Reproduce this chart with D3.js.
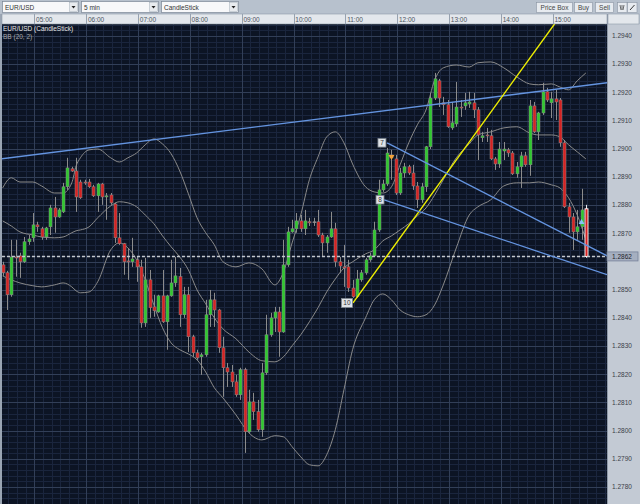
<!DOCTYPE html>
<html><head><meta charset="utf-8">
<script src="https://cdn.jsdelivr.net/npm/d3@7"></script>
<style>
html,body{margin:0;padding:0;background:#b7c1cd;overflow:hidden}
svg{display:block}
text{font-family:"Liberation Sans",Arial,sans-serif}
</style></head><body>
<svg id="c" width="640" height="504"></svg>
<script>
// ---------------- data ----------------
const symbol = "EUR/USD";
const interval = "5 min";
const chartType = "CandleStick";
const legendLines = ["EUR/USD (CandleStick)", "BB (20, 2)"];
const toolButtons = ["Price Box", "Buy", "Sell"];
const startTime = "04:25";
const stepMinutes = 5;
const hourTicks = ["05:00","06:00","07:00","08:00","09:00","10:00","11:00","12:00","13:00","14:00","15:00"];
const priceTicks = [1.2780,1.2790,1.2800,1.2810,1.2820,1.2830,1.2840,1.2850,1.2860,1.2870,1.2880,1.2890,1.2900,1.2910,1.2920,1.2930,1.2940];
const currentPrice = 1.28618;

const open = [
1.28588,1.28560,1.28482,1.28616,1.28620,1.28599,1.28670,1.28684,1.28730,1.28716,
1.28687,1.28723,1.28790,1.28758,1.28776,1.28865,1.28929,1.28921,1.28882,1.28882,
1.28882,1.28865,1.28833,1.28875,1.28829,1.28836,1.28804,1.28684,1.28663,1.28602,
1.28599,1.28606,1.28581,1.28382,1.28535,1.28439,1.28421,1.28478,1.28386,1.28478,
1.28524,1.28546,1.28411,1.28482,1.28333,1.28276,1.28262,1.28269,1.28411,1.28464,
1.28428,1.28294,1.28223,1.28208,1.28173,1.28127,1.28216,1.27996,1.28102,1.28067,
1.28003,1.28205,1.28340,1.28400,1.28421,1.28350,1.28588,1.28705,1.28716,1.28744,
1.28716,1.28741,1.28741,1.28741,1.28694,1.28666,1.28687,1.28716,1.28599,1.28581,
1.28581,1.28506,1.28475,1.28535,1.28560,1.28606,1.28620,1.28712,1.28854,1.28875,
1.28978,1.28964,1.28843,1.28914,1.28936,1.28914,1.28868,1.28819,1.28865,1.29007,
1.29180,1.29241,1.29163,1.29156,1.29074,1.29088,1.29148,1.29152,1.29159,1.29163,
1.29138,1.29039,1.29049,1.29046,1.28964,1.28946,1.28992,1.28996,1.28985,1.28911,
1.28936,1.28975,1.28943,1.29152,1.29060,1.29127,1.29202,1.29163,1.29177,1.29173,
1.29021,1.28794,1.28758,1.28705,1.28723,1.28787];
const high = [
1.28599,1.28567,1.28677,1.28677,1.28631,1.28687,1.28694,1.28772,1.28741,1.28723,
1.28723,1.28801,1.28829,1.28790,1.28879,1.28968,1.28936,1.28968,1.28890,1.28890,
1.28893,1.28872,1.28879,1.28879,1.28843,1.28843,1.28808,1.28772,1.28666,1.28648,
1.28684,1.28616,1.28606,1.28613,1.28570,1.28482,1.28482,1.28570,1.28482,1.28606,
1.28616,1.28577,1.28510,1.28510,1.28340,1.28287,1.28276,1.28464,1.28499,1.28489,
1.28432,1.28333,1.28240,1.28233,1.28198,1.28223,1.28223,1.28145,1.28134,1.28109,
1.28240,1.28411,1.28418,1.28439,1.28439,1.28677,1.28723,1.28748,1.28772,1.28765,
1.28783,1.28755,1.28755,1.28783,1.28702,1.28694,1.28776,1.28737,1.28616,1.28659,
1.28606,1.28535,1.28570,1.28570,1.28613,1.28631,1.28741,1.28890,1.28890,1.29003,
1.28996,1.28978,1.28932,1.28950,1.28943,1.28943,1.28882,1.28879,1.29010,1.29198,
1.29269,1.29248,1.29184,1.29173,1.29166,1.29237,1.29173,1.29198,1.29202,1.29198,
1.29148,1.29060,1.29074,1.29067,1.28971,1.29024,1.29024,1.29003,1.28992,1.28953,
1.28989,1.28989,1.29173,1.29166,1.29131,1.29234,1.29216,1.29202,1.29209,1.29180,
1.29031,1.28808,1.28772,1.28783,1.28858,1.28801];
const low = [
1.28549,1.28428,1.28475,1.28546,1.28542,1.28595,1.28659,1.28670,1.28705,1.28677,
1.28677,1.28694,1.28702,1.28755,1.28772,1.28854,1.28918,1.28776,1.28822,1.28872,
1.28861,1.28829,1.28776,1.28801,1.28748,1.28801,1.28666,1.28659,1.28553,1.28535,
1.28581,1.28528,1.28365,1.28368,1.28400,1.28404,1.28418,1.28382,1.28287,1.28475,
1.28510,1.28368,1.28400,1.28279,1.28262,1.28251,1.28198,1.28262,1.28368,1.28368,
1.28276,1.28120,1.28155,1.28155,1.28120,1.28109,1.27921,1.27992,1.28038,1.27996,
1.27978,1.28198,1.28333,1.28350,1.28262,1.28347,1.28581,1.28702,1.28702,1.28705,
1.28694,1.28726,1.28726,1.28687,1.28616,1.28631,1.28684,1.28581,1.28560,1.28510,
1.28492,1.28471,1.28471,1.28528,1.28553,1.28599,1.28616,1.28705,1.28847,1.28868,
1.28890,1.28836,1.28836,1.28897,1.28907,1.28854,1.28790,1.28808,1.28847,1.28999,
1.29173,1.29148,1.29120,1.29074,1.29067,1.29078,1.29113,1.29138,1.29145,1.29109,
1.28960,1.29024,1.29024,1.28960,1.28925,1.28932,1.28960,1.28971,1.28907,1.28897,
1.28861,1.28936,1.28904,1.29056,1.29031,1.29120,1.29166,1.29109,1.29102,1.29007,
1.28790,1.28702,1.28641,1.28677,1.28677,1.28613];
const close = [
1.28560,1.28482,1.28616,1.28613,1.28599,1.28670,1.28680,1.28730,1.28723,1.28687,
1.28719,1.28790,1.28758,1.28783,1.28865,1.28932,1.28921,1.28829,1.28826,1.28879,
1.28865,1.28833,1.28875,1.28829,1.28833,1.28808,1.28684,1.28663,1.28599,1.28599,
1.28609,1.28581,1.28382,1.28535,1.28436,1.28425,1.28478,1.28386,1.28478,1.28524,
1.28549,1.28411,1.28482,1.28333,1.28276,1.28258,1.28269,1.28411,1.28464,1.28428,
1.28294,1.28223,1.28208,1.28173,1.28127,1.28216,1.27996,1.28102,1.28067,1.28003,
1.28205,1.28340,1.28400,1.28421,1.28350,1.28588,1.28705,1.28716,1.28744,1.28716,
1.28744,1.28737,1.28741,1.28694,1.28666,1.28687,1.28716,1.28599,1.28584,1.28577,
1.28506,1.28475,1.28538,1.28560,1.28606,1.28620,1.28712,1.28854,1.28875,1.28985,
1.28968,1.28843,1.28914,1.28936,1.28914,1.28868,1.28819,1.28865,1.29007,1.29180,
1.29248,1.29180,1.29156,1.29078,1.29092,1.29148,1.29145,1.29163,1.29166,1.29138,
1.29049,1.29046,1.29046,1.28964,1.28946,1.28999,1.28999,1.28985,1.28911,1.28936,
1.28975,1.28943,1.29152,1.29060,1.29127,1.29202,1.29173,1.29177,1.29166,1.29021,
1.28794,1.28758,1.28705,1.28723,1.28783,1.28618];

// Bollinger band (20, 2) values at these candle indices
const bbIndex = [0,2,4,7,9,12,14,16,17,18,20,22,25,27,29,31,33,35,37,39,41,43,45,47,49,51,54,57,60,63,65,67,69,71,73,75,77,79,81,84,86,88,90,92,94,96,98,100,102,105,108,110,113,116,119,122,124,127,129,131,133,135];
const bbUpper = [1.28861,1.28897,1.28882,1.28882,1.28868,1.28843,1.28843,1.28879,1.28939,1.28968,
1.28996,1.28999,1.28968,1.28953,1.28968,1.28985,1.29014,1.29035,1.29017,1.28982,
1.28921,1.28840,1.28755,1.28702,1.28659,1.28599,1.28581,1.28595,1.28574,1.28517,
1.28563,1.28666,1.28765,1.28890,1.28971,1.29042,1.29060,1.29021,1.28946,1.28865,
1.28847,1.28843,1.28865,1.28943,1.29021,1.29085,1.29138,1.29244,1.29287,1.29297,
1.29290,1.29305,1.29308,1.29287,1.29255,1.29230,1.29227,1.29230,1.29219,1.29209,
1.29241,1.29269];
const bbMiddle = [1.28744,1.28726,1.28705,1.28694,1.28687,1.28684,1.28687,1.28702,1.28709,1.28712,
1.28723,1.28755,1.28797,1.28812,1.28808,1.28794,1.28765,1.28734,1.28691,1.28652,
1.28616,1.28570,1.28499,1.28450,1.28400,1.28361,1.28326,1.28279,1.28248,1.28244,
1.28262,1.28301,1.28340,1.28386,1.28436,1.28492,1.28538,1.28577,1.28599,1.28627,
1.28641,1.28673,1.28691,1.28712,1.28734,1.28762,1.28790,1.28836,1.28890,1.28968,
1.29017,1.29049,1.29060,1.29074,1.29078,1.29056,1.29049,1.29049,1.29042,1.29014,
1.28989,1.28964];
const bbLower = [1.28549,1.28535,1.28524,1.28514,1.28510,1.28517,1.28524,1.28510,1.28496,1.28489,
1.28492,1.28528,1.28641,1.28666,1.28648,1.28606,1.28535,1.28446,1.28365,1.28311,
1.28287,1.28272,1.28251,1.28208,1.28152,1.28116,1.28056,1.27992,1.27967,1.27982,
1.27978,1.27943,1.27907,1.27879,1.27875,1.27914,1.28003,1.28145,1.28287,1.28400,
1.28464,1.28485,1.28464,1.28428,1.28411,1.28404,1.28411,1.28446,1.28517,1.28648,
1.28765,1.28794,1.28819,1.28868,1.28879,1.28879,1.28882,1.28872,1.28861,1.28826,
1.28765,1.28677];

// drawn annotations: [candle index, price]
const trendLines = [
  {from:[-1, 1.28963], to:[141, 1.29236], color:"#6494e0", w:1.4},
  {from:[81.1, 1.28453], to:[128.1, 1.29450], color:"#f0f000", w:1.4},
  {from:[89.0, 1.29021], to:[139.9, 1.28620], color:"#6494e0", w:1.3},
  {from:[88.3, 1.28819], to:[139.9, 1.28553], color:"#6494e0", w:1.3}
];
const pointLabels = [
  {text:"7", i:87.8, p:1.29021, w:8, h:8.5},
  {text:"8", i:87.35, p:1.28819, w:8, h:8.5},
  {text:"10", i:79.7, p:1.28453, w:11, h:9}
];
const markers = [
  {i:90, p:1.28978, dir:"down", color:"#f2a23a"},
  {i:134, p:1.28751, dir:"up", color:"#86c4f6"}
];

// ---------------- layout ----------------
const svg = d3.select("#c");
const L = 2, R = 607, T = 24, B = 504;
const parseT = d3.timeParse("%H:%M");
const t0 = parseT(startTime);
const timeOf = i => new Date(+t0 + i * stepMinutes * 60000);
const x = d3.scaleTime()
  .domain([parseT(hourTicks[0]), parseT(hourTicks[hourTicks.length - 1])])
  .range([34.3, 552.7]);
const cx = i => x(timeOf(i)) - 1.4;
const y = d3.scaleLinear()
  .domain([priceTicks[0], priceTicks[priceTicks.length - 1]])
  .range([487, 36]);

svg.append("rect").attr("width", 640).attr("height", 504).attr("fill", "#b7c1cd");
svg.append("defs").append("clipPath").attr("id", "clip")
  .append("rect").attr("x", L).attr("y", T).attr("width", R - L).attr("height", B - T);

// plot background
svg.append("rect").attr("x", L).attr("y", T).attr("width", R - L).attr("height", B - T).attr("fill", "#0c1424");

const g = svg.append("g").attr("clip-path", "url(#clip)");

// minor grid
const minorT = d3.timeMinute.every(10).range(x.invert(L - 10), x.invert(R + 10));
g.append("g").selectAll("line").data(minorT).join("line")
  .attr("x1", d => Math.round(x(d)) + 0.5).attr("x2", d => Math.round(x(d)) + 0.5)
  .attr("y1", T).attr("y2", B).attr("stroke", "#1a253d").attr("stroke-width", 1);
const minorP = d3.range(6385, 6481).map(k => k * 0.0002);
g.append("g").selectAll("line").data(minorP).join("line")
  .attr("x1", L).attr("x2", R)
  .attr("y1", d => Math.round(y(d)) + 0.5).attr("y2", d => Math.round(y(d)) + 0.5)
  .attr("stroke", "#1a253d").attr("stroke-width", 1);
// major grid
g.append("g").selectAll("line").data(hourTicks).join("line")
  .attr("x1", d => Math.round(x(parseT(d))) + 0.5).attr("x2", d => Math.round(x(parseT(d))) + 0.5)
  .attr("y1", T).attr("y2", B).attr("stroke", "#323f58").attr("stroke-width", 1);
g.append("g").selectAll("line").data(priceTicks).join("line")
  .attr("x1", L).attr("x2", R)
  .attr("y1", d => Math.round(y(d)) + 0.5).attr("y2", d => Math.round(y(d)) + 0.5)
  .attr("stroke", "#323f58").attr("stroke-width", 1);

// Bollinger bands
const bandLine = vals => d3.line()
  .x((d, k) => cx(bbIndex[k])).y(d => y(d))
  .curve(d3.curveMonotoneX)(vals);
[bbUpper, bbMiddle, bbLower].forEach(vals => {
  g.append("path").attr("d", bandLine(vals)).attr("fill", "none")
    .attr("stroke", "#8a8a8a").attr("stroke-width", 1);
});

// candles
const candles = open.map((o, i) => ({i, o, h: high[i], l: low[i], c: close[i]}));
const last = candles.length - 1;
const cg = g.append("g");
cg.selectAll("line").data(candles).join("line")
  .attr("x1", d => Math.round(cx(d.i)) + 0.5).attr("x2", d => Math.round(cx(d.i)) + 0.5)
  .attr("y1", d => y(d.h)).attr("y2", d => y(d.l))
  .attr("stroke", d => d.i === last ? "#e8e8e8" : "#8c8c8c").attr("stroke-width", 1);
cg.selectAll("rect").data(candles).join("rect")
  .attr("x", d => Math.round(cx(d.i)) - 1)
  .attr("width", 3)
  .attr("y", d => y(Math.max(d.o, d.c)))
  .attr("height", d => Math.max(1, Math.abs(y(d.o) - y(d.c))))
  .attr("fill", d => d.c > d.o ? "#2ec82e" : (d.c < d.o ? "#d42222" : "#9a9a9a"))
  .attr("stroke", d => d.i === last ? "#ffffff" : "#8a8a8a")
  .attr("stroke-width", d => d.i === last ? 0.9 : 0.5);

// current price dashed line
g.append("line").attr("x1", L).attr("x2", R)
  .attr("y1", y(currentPrice)).attr("y2", y(currentPrice))
  .attr("stroke", "#c4c8cd").attr("stroke-width", 1.4).attr("stroke-dasharray", "3,2");

// trend lines
trendLines.forEach(t => {
  g.append("line")
    .attr("x1", cx(t.from[0])).attr("y1", y(t.from[1]))
    .attr("x2", cx(t.to[0])).attr("y2", y(t.to[1]))
    .attr("stroke", t.color).attr("stroke-width", t.w);
});

// markers
markers.forEach(m => {
  const px = cx(m.i), py = y(m.p);
  const d = m.dir === "down"
    ? `M${px - 3},${py}L${px + 3},${py}L${px},${py + 5}Z`
    : `M${px - 3},${py + 5}L${px + 3},${py + 5}L${px},${py}Z`;
  g.append("path").attr("d", d).attr("fill", m.color);
});

// point labels
pointLabels.forEach(p => {
  const px = cx(p.i), py = y(p.p);
  g.append("rect").attr("x", px - p.w / 2).attr("y", py - p.h / 2)
    .attr("width", p.w).attr("height", p.h)
    .attr("fill", "#dfe3e8").attr("stroke", "#7d858e").attr("stroke-width", 0.8);
  g.append("text").attr("x", px).attr("y", py + 2.3).attr("text-anchor", "middle")
    .attr("font-size", 6.5).attr("fill", "#333").text(p.text);
});

// legend text
g.append("text").attr("x", 3).attr("y", 31).attr("font-size", 6.5).attr("fill", "#e6e6e6").text(legendLines[0]);
g.append("text").attr("x", 3).attr("y", 38.5).attr("font-size", 6.5).attr("fill", "#a8a8a8").text(legendLines[1]);

// left border
svg.append("rect").attr("x", 0).attr("y", 14).attr("width", L).attr("height", B - 14).attr("fill", "#9aa5b3");

// right price axis (tick label under the current-price box is hidden, as in the platform)
svg.append("rect").attr("x", R).attr("y", T).attr("width", 640 - R).attr("height", B - T).attr("fill", "#c3cad4");
svg.append("line").attr("x1", R + 0.5).attr("x2", R + 0.5).attr("y1", 14).attr("y2", B).attr("stroke", "#8e99a8");
const cpY = y(currentPrice);
svg.append("g").selectAll("text").data(priceTicks.filter(p => Math.abs(y(p) - cpY) > 8)).join("text")
  .attr("x", 612).attr("y", d => y(d) + 2.3)
  .attr("font-size", 6.5).attr("fill", "#3a4049").text(d => d.toFixed(4));
svg.append("rect").attr("x", R).attr("y", cpY - 4.5).attr("width", 31).attr("height", 9)
  .attr("fill", "#a5afc0").attr("stroke", "#76829a").attr("stroke-width", 0.8);
svg.append("text").attr("x", 612).attr("y", cpY + 2.3)
  .attr("font-size", 6.5).attr("fill", "#1e232b").text(currentPrice.toFixed(4));

// time axis bar
svg.append("rect").attr("x", L).attr("y", 14).attr("width", R - L).attr("height", 10)
  .attr("fill", "#e3e7ec").attr("stroke", "#8e99a8").attr("stroke-width", 0.6);
svg.append("rect").attr("x", R + 1).attr("y", 14).attr("width", 31).attr("height", 10)
  .attr("fill", "#e3e7ec").attr("stroke", "#8e99a8").attr("stroke-width", 0.6);
const tg = svg.append("g");
tg.selectAll("line").data(hourTicks).join("line")
  .attr("x1", d => Math.round(x(parseT(d))) + 0.5).attr("x2", d => Math.round(x(parseT(d))) + 0.5)
  .attr("y1", 14).attr("y2", 24).attr("stroke", "#97a2b0");
tg.selectAll("text").data(hourTicks).join("text")
  .attr("x", d => x(parseT(d)) + 1.8).attr("y", 21.6)
  .attr("font-size", 6.5).attr("fill", "#4d5560").text(d => d);

// toolbar
const tb = svg.append("g");
const combos = [{t: symbol, x: 2, w: 76}, {t: interval, x: 81, w: 77}, {t: chartType, x: 161, w: 77}];
combos.forEach(c => {
  tb.append("rect").attr("x", c.x + 0.5).attr("y", 1.5).attr("width", c.w).attr("height", 11)
    .attr("fill", "#f7f8fa").attr("stroke", "#7b8796").attr("stroke-width", 0.7);
  tb.append("rect").attr("x", c.x + c.w - 8.5).attr("y", 2.5).attr("width", 8).attr("height", 9)
    .attr("fill", "#e8ebef").attr("stroke", "#a3adb9").attr("stroke-width", 0.5);
  const ax = c.x + c.w - 4.5;
  tb.append("path").attr("d", `M${ax - 2},6L${ax + 2},6L${ax},8.5Z`).attr("fill", "#222");
  tb.append("text").attr("x", c.x + 3).attr("y", 9.8).attr("font-size", 6.5).attr("fill", "#333").text(c.t);
});
const btns = [{x: 536, w: 36}, {x: 574, w: 18}, {x: 595, w: 18}];
toolButtons.forEach((t, k) => {
  const b = btns[k];
  tb.append("rect").attr("x", b.x + 0.5).attr("y", 2.5).attr("width", b.w).attr("height", 10)
    .attr("fill", "#e7ebf0").attr("stroke", "#8a95a3").attr("stroke-width", 0.6);
  tb.append("text").attr("x", b.x + b.w / 2 + 0.5).attr("y", 9.8).attr("text-anchor", "middle")
    .attr("font-size", 6.5).attr("fill", "#444").text(t);
});
[617, 627].forEach((bx, k) => {
  tb.append("rect").attr("x", bx + 0.5).attr("y", 2.5).attr("width", 9.5).attr("height", 10)
    .attr("fill", "#e7ebf0").attr("stroke", "#8a95a3").attr("stroke-width", 0.6);
  if (k === 0) {
    tb.append("path").attr("d", `M${bx + 3},5L${bx + 4},10M${bx + 5},5L${bx + 5},10M${bx + 7},5L${bx + 6},10`)
      .attr("stroke", "#333").attr("stroke-width", 0.7).attr("fill", "none");
  } else {
    tb.append("path").attr("d", `M${bx + 3},10L${bx + 7.5},5`)
      .attr("stroke", "#222").attr("stroke-width", 0.9).attr("fill", "none");
  }
});
</script>
</body></html>
